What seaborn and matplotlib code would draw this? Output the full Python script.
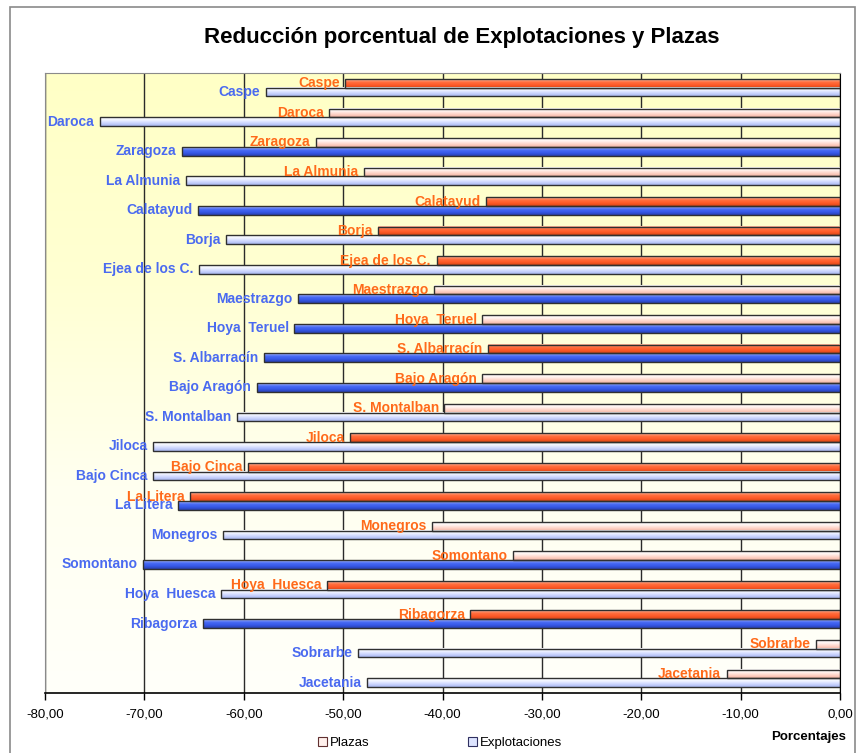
import numpy as np
import pandas as pd
import seaborn as sns
import matplotlib.pyplot as plt
from matplotlib.colors import LinearSegmentedColormap
from matplotlib.patches import Patch, Rectangle
from matplotlib.ticker import FuncFormatter, MultipleLocator

regiones = ["Caspe", "Daroca", "Zaragoza", "La Almunia", "Calatayud", "Borja",
            "Ejea de los C.", "Maestrazgo", "Hoya  Teruel", "S. Albarracín",
            "Bajo Aragón", "S. Montalban", "Jiloca", "Bajo Cinca", "La Litera",
            "Monegros", "Somontano", "Hoya  Huesca", "Ribagorza", "Sobrarbe",
            "Jacetania"]
plazas = [-49.8, -51.4, -52.7, -47.9, -35.6, -46.5, -40.6, -40.9, -36.0, -35.4,
          -36.0, -39.8, -49.3, -59.6, -65.4, -41.1, -32.9, -51.6, -37.2, -2.4,
          -11.4]
explotaciones = [-57.8, -74.5, -66.2, -65.8, -64.6, -61.8, -64.5, -54.5, -54.9,
                 -58.0, -58.7, -60.7, -69.1, -69.1, -66.6, -62.1, -70.1, -62.3,
                 -64.1, -48.5, -47.6]
# barras resaltadas (color intenso) en el original
plazas_marcadas = [1, 0, 0, 0, 1, 1, 1, 0, 0, 1, 0, 0, 1, 1, 1, 0, 0, 1, 1, 0, 0]
explot_marcadas = [0, 0, 1, 0, 1, 0, 0, 1, 1, 1, 1, 0, 0, 0, 1, 0, 1, 0, 1, 0, 0]
series = ["Plazas", "Explotaciones"]

df = pd.DataFrame({
    "region": regiones * 2,
    "serie": ["Plazas"] * len(regiones) + ["Explotaciones"] * len(regiones),
    "valor": plazas + explotaciones,
})

plt.rcParams["font.family"] = ["Liberation Sans", "DejaVu Sans"]

W, H = 860, 753
fig = plt.figure(figsize=(W / 100, H / 100), dpi=100)
ax = fig.add_axes([45 / W, 1 - 693 / H, 795 / W, 620 / H])

# marco exterior del gráfico
fig.patches.append(Rectangle((10 / W, -0.01), 845 / W, 1.01 - 7 / H,
                             transform=fig.transFigure, fill=False,
                             edgecolor="#8a8a8a", lw=1.2))

sns.barplot(data=df, x="valor", y="region", hue="serie", hue_order=series,
            orient="h", width=0.59, dodge=True, ax=ax, legend=False,
            saturation=1, palette=["#ffffff", "#ffffff"])

# fondo degradado amarillo
bg = LinearSegmentedColormap.from_list("bg", ["#ffffc6", "#ffffd2", "#fffff0", "#fffffa"])
ax.imshow(np.linspace(0, 1, 256).reshape(-1, 1), cmap=bg, aspect="auto",
          extent=(0, 1, 0, 1), transform=ax.transAxes, zorder=0)

cmaps = {
    ("Plazas", 1): ["#ffc0a8", "#ff7040", "#ff5a28", "#d84818"],
    ("Plazas", 0): ["#ffffff", "#fff4f0", "#ffd4c8", "#f0b4a4"],
    ("Explotaciones", 1): ["#b4c4ff", "#4a6cf5", "#3658e8", "#2a40b0"],
    ("Explotaciones", 0): ["#ffffff", "#f0f3ff", "#cdd6ff", "#a8b6ee"],
}
colores_txt = {"Plazas": "#ff6a1a", "Explotaciones": "#4a6af0"}
marcas = {"Plazas": plazas_marcadas, "Explotaciones": explot_marcadas}

grad = np.linspace(0, 1, 64).reshape(-1, 1)
for serie, cont in zip(series, ax.containers):
    for i, bar in enumerate(cont):
        x0 = bar.get_x()
        w = bar.get_width()
        y0 = bar.get_y()
        h = bar.get_height()
        cm = LinearSegmentedColormap.from_list("g", cmaps[(serie, marcas[serie][i])])
        ax.imshow(grad, cmap=cm, aspect="auto", extent=(x0 + w, x0, y0 + h, y0),
                  zorder=1.5, interpolation="bilinear")
        bar.set_facecolor("none")
        bar.set_edgecolor("#303030")
        bar.set_linewidth(1.0)
        bar.set_zorder(2)
        ax.annotate(regiones[i], xy=(x0 + w, y0 + h / 2), xytext=(-4, 0),
                    textcoords="offset points", ha="right", va="center",
                    color=colores_txt[serie], fontweight="bold", fontsize=10,
                    zorder=3)

ax.set_xlim(-80, 0)
ax.set_ylim(len(regiones) - 0.5, -0.5)
ax.xaxis.set_major_locator(MultipleLocator(10))
ax.xaxis.set_major_formatter(FuncFormatter(lambda v, p: f"{v:.2f}".replace(".", ",").replace("-0,00", "0,00")))
ax.grid(axis="x", color="#2a2a2a", lw=1.0, zorder=0.5)
ax.set_axisbelow(True)
ax.set_yticks([])
ax.set_xlabel("")
ax.set_ylabel("")
ax.tick_params(axis="x", length=5, width=1, color="black", labelsize=9.5, pad=6)

for side in ["left", "top"]:
    ax.spines[side].set_color("#8a8a8a")
ax.spines["right"].set_color("black")
ax.spines["bottom"].set_color("black")
ax.spines["bottom"].set_linewidth(1.2)

fig.text(462 / W, 1 - 37 / H, "Reducción porcentual de Explotaciones y Plazas",
         ha="center", va="center", fontsize=16, fontweight="bold")
fig.text(846 / W, 1 - 737 / H, "Porcentajes", ha="right", va="center",
         fontsize=9.5, fontweight="bold")

handles = [Patch(facecolor="#fff0ec", edgecolor="#603030", lw=0.8, label="Plazas"),
           Patch(facecolor="#dde4ff", edgecolor="#303060", lw=0.8, label="Explotaciones")]
fig.legend(handles=handles, loc="center", bbox_to_anchor=(440 / W, 1 - 743 / H),
           ncol=2, frameon=False, fontsize=9.5, handlelength=0.7,
           handleheight=0.7, handletextpad=0.2, columnspacing=7.5)

fig.savefig("out.png", dpi=100)
